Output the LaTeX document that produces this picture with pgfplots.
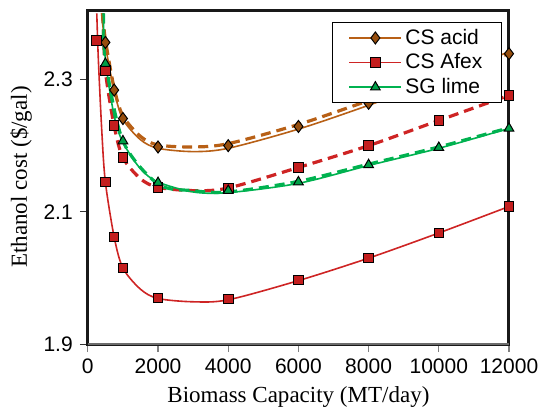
\documentclass[border=0pt]{standalone}
\usepackage{fontspec}
\setmainfont{Liberation Sans}
\newfontfamily\serif{Liberation Serif}
\usepackage{pgfplots}
\pgfplotsset{compat=1.18}
\usetikzlibrary{calc}
\definecolor{acidline}{RGB}{184,96,22}
\definecolor{acidfill}{RGB}{150,78,14}
\definecolor{afexline}{RGB}{206,36,36}
\definecolor{afexfill}{RGB}{196,30,30}
\definecolor{limeline}{RGB}{0,178,80}
\definecolor{limefill}{RGB}{0,160,72}

\begin{document}
\begin{tikzpicture}
  \begin{axis}[
      name=ax,
      scale only axis, width=210.5pt, height=167pt,
      xmin=0, xmax=12000, ymin=1.9, ymax=2.405,
      xtick={0,2000,...,12000}, ytick={1.9,2.1,2.3},
      scaled ticks=false,
      /pgf/number format/assume math mode=true,
      xticklabel style={/pgf/number format/set thousands separator={}},
      tick label style={font=\fontsize{10.5}{12}\selectfont},
      tick align=outside, tick pos=left,
      major tick length=4pt,
      xtick style={gray, line width=0.6pt},
      ytick style={black!80, line width=0.6pt},
      axis line style={line width=1.5pt, black!90},
      xlabel={Biomass Capacity (MT/day)},
      ylabel={Ethanol cost (\$/gal)},
      label style={font=\serif\fontsize{11.5}{13}\selectfont},
      xlabel style={at={(rel axis cs:0.5,0)}, anchor=center, yshift=-26.5pt},
      ylabel style={at={(rel axis cs:0,0.5)}, anchor=center, rotate=0, yshift=33.4pt},
      legend style={at={(rel axis cs:0.984,0.964)}, anchor=north east,
        draw=black, line width=0.6pt, fill=white,
        font=\fontsize{10.5}{12}\selectfont, row sep=0pt,
        inner xsep=8pt, inner ysep=1.5pt,
        nodes={inner sep=1.6pt}},
      legend cell align=left,
      legend image code/.code={
        \draw[mark repeat=2,mark phase=2,#1]
          plot coordinates {(-8pt,0pt) (5pt,0pt) (18pt,0pt)};},
    ]

    % legend images
    \addlegendimage{acidline, line width=0.8pt, mark=diamond*, mark size=3pt,
      mark options={fill=acidfill, draw=black, line width=0.5pt}}
    \addlegendentry{CS acid}
    \addlegendimage{afexline, line width=0.8pt, mark=square*, mark size=2.4pt,
      mark options={fill=afexfill, draw=black, line width=0.5pt}}
    \addlegendentry{CS Afex}
    \addlegendimage{limeline, line width=0.8pt, mark=triangle*, mark size=2.8pt,
      mark options={fill=limefill, draw=black, line width=0.5pt}}
    \addlegendentry{SG lime}

    % dashed curves
    \addplot[forget plot, acidline, line width=1.6pt, dash pattern=on 5pt off 3pt, smooth]
      coordinates {(420,2.40) (500,2.360) (750,2.287) (1000,2.245) (1500,2.214)
        (2000,2.201) (3000,2.198) (4000,2.203) (6000,2.232) (8000,2.268)
        (10000,2.304) (12000,2.339)};
    \addplot[forget plot, afexline, line width=1.6pt, dash pattern=on 5pt off 3pt, smooth]
      coordinates {(430,2.40) (500,2.314) (750,2.230) (1000,2.182) (1500,2.150)
        (2000,2.137) (3000,2.132) (4000,2.136) (6000,2.167) (8000,2.200)
        (10000,2.238) (12000,2.276)};
    \addplot[forget plot, limeline, line width=1.6pt, dash pattern=on 5pt off 3pt, smooth]
      coordinates {(450,2.40) (500,2.330) (1000,2.207) (2000,2.142) (3000,2.132)
        (4000,2.130) (6000,2.146) (8000,2.172) (10000,2.198) (12000,2.227)};

    % solid fitted curves
    \addplot[forget plot, acidline, line width=0.8pt, smooth]
      coordinates {(390,2.40) (500,2.352) (750,2.283) (1000,2.240) (1500,2.209)
        (2000,2.196) (3000,2.191) (4000,2.196) (6000,2.225) (8000,2.261)
        (10000,2.300) (12000,2.342)};
    \addplot[forget plot, afexline, line width=0.8pt, smooth]
      coordinates {(255,2.40) (300,2.330) (400,2.220) (500,2.145) (750,2.062)
        (1000,2.015) (1500,1.983) (2000,1.969) (3000,1.964) (4000,1.967)
        (6000,1.996) (8000,2.030) (10000,2.068) (12000,2.108)};
    \addplot[forget plot, limeline, line width=0.8pt, smooth]
      coordinates {(440,2.40) (500,2.330) (750,2.245) (1000,2.205) (1500,2.165)
        (2000,2.145) (3000,2.130) (4000,2.129) (6000,2.143) (8000,2.170)
        (10000,2.196) (12000,2.226)};

    % markers
    \addplot[forget plot, only marks, mark=diamond*, mark size=3pt,
      mark options={fill=acidfill, draw=black, line width=0.5pt}]
      coordinates {(500,2.356) (750,2.284) (1000,2.241) (2000,2.198) (4000,2.200)
        (6000,2.229) (8000,2.264) (10000,2.302) (12000,2.339)};
    \addplot[forget plot, only marks, mark=square*, mark size=2.4pt,
      mark options={fill=afexfill, draw=black, line width=0.5pt}]
      coordinates {(500,2.314) (750,2.230) (1000,2.182) (2000,2.137) (4000,2.136)
        (6000,2.167) (8000,2.200) (10000,2.238) (12000,2.276)};
    \addplot[forget plot, only marks, mark=square*, mark size=2.4pt,
      mark options={fill=afexfill, draw=black, line width=0.5pt}]
      coordinates {(250,2.359) (500,2.145) (750,2.062) (1000,2.015) (2000,1.970)
        (4000,1.968) (6000,1.997) (8000,2.030) (10000,2.068) (12000,2.108)};
    \addplot[forget plot, only marks, mark=triangle*, mark size=2.8pt,
      mark options={fill=limefill, draw=black, line width=0.5pt}]
      coordinates {(500,2.324) (1000,2.207) (2000,2.144) (4000,2.132) (6000,2.145)
        (8000,2.171) (10000,2.197) (12000,2.226)};

    \draw[gray!85!black, line width=1.1pt] (rel axis cs:0,0) -- (rel axis cs:1,0);
  \end{axis}
  \pgfresetboundingbox
  \path ($(ax.south west)+(-43.9pt,-34pt)$) rectangle ($(ax.north east)+(15pt,5pt)$);
\end{tikzpicture}
\end{document}
